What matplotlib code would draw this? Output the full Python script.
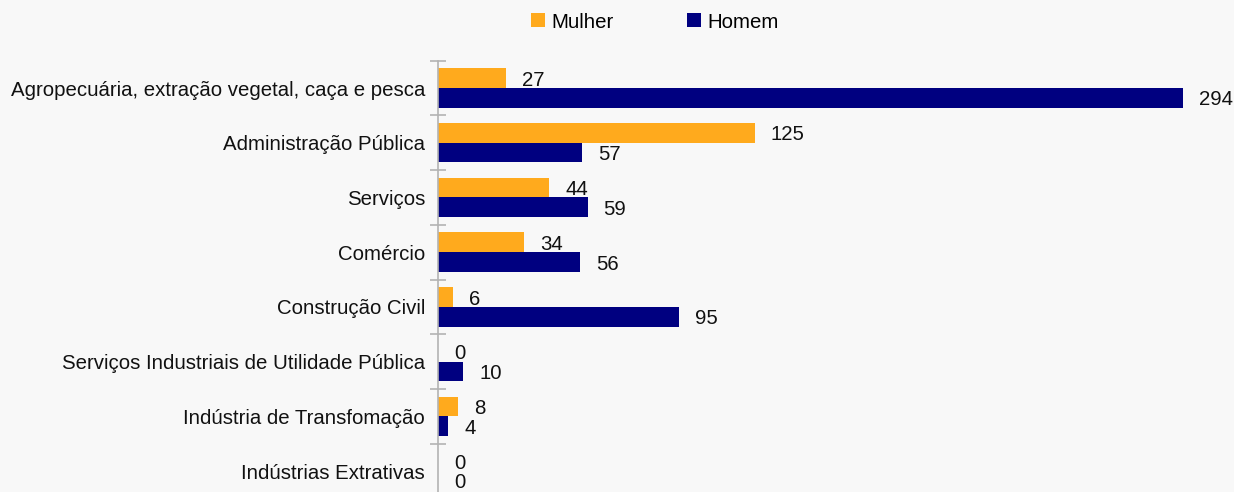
import matplotlib
matplotlib.use("Agg")
import matplotlib.pyplot as plt
from matplotlib.lines import Line2D
import numpy as np

categories = [
    "Agropecuária, extração vegetal, caça e pesca",
    "Administração Pública",
    "Serviços",
    "Comércio",
    "Construção Civil",
    "Serviços Industriais de Utilidade Pública",
    "Indústria de Transfomação",
    "Indústrias Extrativas",
]
mulher = [27, 125, 44, 34, 6, 0, 8, 0]
homem = [294, 57, 59, 56, 95, 10, 4, 0]
series_names = ["Mulher", "Homem"]
colors = ["#FFAA1D", "#000080"]

plt.rcParams['font.family'] = ['Liberation Sans', 'DejaVu Sans']
BG = "#F8F8F8"
FS = 14.7

W, H = 1234, 492
fig = plt.figure(figsize=(W / 100, H / 100), dpi=100, facecolor=BG)
left_px, top_px = 438, 60.65
cat_h = 54.72
n = len(categories)
bottom_px = top_px + n * cat_h
ax = fig.add_axes([left_px / W, 1 - bottom_px / H, (W - left_px) / W, (bottom_px - top_px) / H])
ax.set_facecolor(BG)

y = np.arange(n)
bh = 0.36
ax.barh(y - bh / 2, mulher, height=bh, color=colors[0], label=series_names[0])
ax.barh(y + bh / 2, homem, height=bh, color=colors[1], label=series_names[1])

scale = 2.534
ax.set_xlim(0, (W - left_px) / scale)
ax.set_ylim(n - 0.5, -0.5)

off = 16 / scale
for i in range(n):
    ax.text(mulher[i] + off, y[i] - bh / 2, str(mulher[i]), va='center_baseline', ha='left', fontsize=FS, color='#111111')
    ax.text(homem[i] + off, y[i] + bh / 2, str(homem[i]), va='center_baseline', ha='left', fontsize=FS, color='#111111')

for s in ['top', 'right', 'bottom']:
    ax.spines[s].set_visible(False)
ax.spines['left'].set_color('#B3B3B3')
ax.spines['left'].set_linewidth(1.2)
ax.set_xticks([])
ax.set_yticks(y)
ax.set_yticklabels(categories, fontsize=FS, color='#111111')
ax.tick_params(axis='y', which='major', length=0, pad=9.4)
ax.set_yticks(np.arange(-0.5, n, 1.0), minor=True)
ax.tick_params(axis='y', which='minor', length=11, direction='inout', color='#B3B3B3', width=1.2)

handles = [Line2D([], [], marker='s', linestyle='none', markersize=10, color=c, markeredgewidth=0) for c in colors]
leg = fig.legend(handles, series_names, loc='center', bbox_to_anchor=(655 / W, 1 - 22 / H), ncol=2,
                 frameon=False, fontsize=FS, handlelength=0.65, handletextpad=0.35, columnspacing=3.6)

fig.savefig("out.png", dpi=100, facecolor=BG)
